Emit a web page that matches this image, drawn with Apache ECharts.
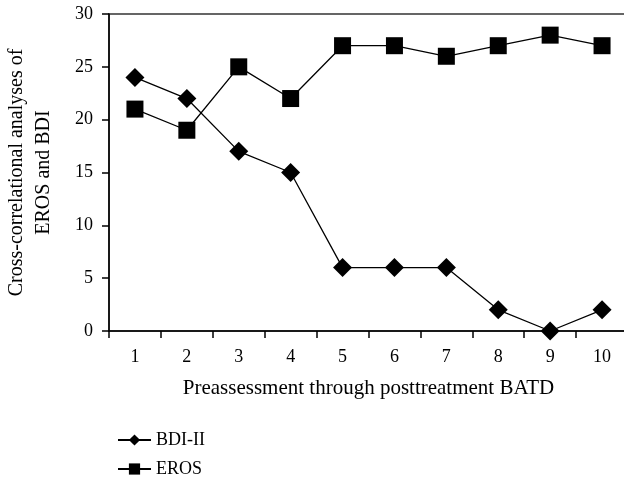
<!DOCTYPE html>
<html>
<head>
<meta charset="utf-8">
<script src="https://cdn.jsdelivr.net/npm/echarts@6/dist/echarts.min.js"></script>
<style>html,body{margin:0;padding:0;background:#fff;}#c{width:624px;height:478px;}</style>
</head>
<body>
<div id="c"></div>
<script>
const categories = ['1','2','3','4','5','6','7','8','9','10'];
const bdi = [24, 22, 17, 15, 6, 6, 6, 2, 0, 2];
const eros = [21, 19, 25, 22, 27, 27, 26, 27, 28, 27];
const yTicks = [0, 5, 10, 15, 20, 25, 30];

const FONT = '"Liberation Serif", "DejaVu Serif", serif';
const chart = echarts.init(document.getElementById('c'));
chart.setOption({
  animation: false,
  backgroundColor: '#fff',
  textStyle: { fontFamily: FONT, color: '#000' },
  grid: { left: 109, top: 14, right: -4, bottom: 147, outerBoundsMode: 'none', containLabel: false,
          show: true, borderColor: '#333', borderWidth: 1.5, backgroundColor: 'transparent' },
  xAxis: {
    type: 'category',
    data: categories,
    boundaryGap: true,
    name: 'Preassessment through posttreatment BATD',
    nameLocation: 'middle',
    nameGap: 47,
    nameTextStyle: { fontFamily: FONT, fontSize: 21, color: '#000' },
    axisLine: { lineStyle: { color: '#000', width: 1.5 } },
    axisTick: { show: true, length: 7, lineStyle: { color: '#000', width: 1.5 } },
    axisLabel: { fontFamily: FONT, fontSize: 18, color: '#000', margin: 17 },
    splitLine: { show: false }
  },
  yAxis: {
    type: 'value',
    min: yTicks[0],
    max: yTicks[yTicks.length - 1],
    interval: 5,
    name: 'Cross-correlational analyses of\nEROS and BDI',
    nameLocation: 'middle',
    nameGap: 52,
    nameTextStyle: { fontFamily: FONT, fontSize: 20, color: '#000', lineHeight: 27 },
    axisLine: { show: true, lineStyle: { color: '#000', width: 1.5 } },
    axisTick: { show: true, length: 7, lineStyle: { color: '#000', width: 1.5 } },
    axisLabel: { fontFamily: FONT, fontSize: 18, color: '#000', margin: 16 },
    splitLine: { show: false }
  },
  legend: {
    orient: 'vertical',
    left: 112,
    top: 426,
    height: 100,
    itemWidth: 33,
    itemHeight: 14,
    itemGap: 11,
    textStyle: { fontFamily: FONT, fontSize: 18, color: '#000' },
    data: ['BDI-II', 'EROS']
  },
  series: [
    {
      name: 'BDI-II',
      type: 'line',
      data: bdi,
      symbol: 'diamond',
      symbolSize: 19,
      lineStyle: { color: '#000', width: 1.3 },
      itemStyle: { color: '#000' },
      z: 3
    },
    {
      name: 'EROS',
      type: 'line',
      data: eros,
      symbol: 'rect',
      symbolSize: 17,
      lineStyle: { color: '#000', width: 1.3 },
      itemStyle: { color: '#000' },
      z: 2
    }
  ]
});
</script>
</body>
</html>
